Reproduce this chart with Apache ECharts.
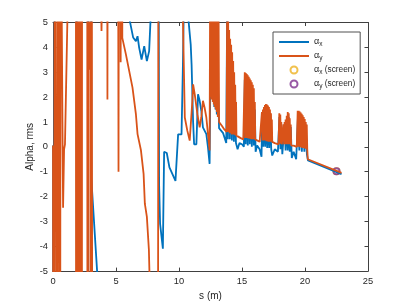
<!DOCTYPE html>
<html><head><meta charset="utf-8">
<script src="https://cdn.jsdelivr.net/npm/echarts@6/dist/echarts.min.js"></script>
<style>html,body{margin:0;padding:0;background:#fff}#c{width:407px;height:306px}</style>
</head><body><div id="c"></div>
<script>
// ---- data (s in m, alpha values; null = gap in the trace) ----
const sX = [0,0.04,0.18,1.85,1.92,2.75,2.82,2.98,3.04,3.5,3.6,3.65,
 6.0,6.36,6.58,6.71,6.84,7.03,7.24,7.45,7.63,7.82,7.85,
 8.3,8.42,8.5,8.72,8.82,9.03,9.24,9.72,9.93,10.05,10.2,10.3,10.38,10.4,
 10.68,10.93,11.0,11.12,11.2,11.38,11.51,11.64,11.77,11.9,12.03,12.17,12.3,12.43,
 12.5,12.55,12.6,12.65,12.7,12.75,12.8,12.85,12.9,12.95,13.0,13.1,13.18,
 13.3,13.5,13.75,
 13.82,13.88,13.96,14.04,14.12,14.2,14.28,14.36,14.44,14.52,14.6,14.65,
 14.8,15.0,15.15,
 15.22,15.3,15.38,15.46,15.54,15.62,15.7,15.78,15.86,15.94,16.02,16.08,
 16.2,16.4,16.55,
 16.6,16.68,16.76,16.84,16.92,17.0,17.08,17.16,17.24,17.32,17.4,
 17.6,17.85,
 17.97,18.05,18.12,18.2,
 18.38,18.46,18.55,18.63,18.71,18.79,18.87,18.95,
 19.1,19.3,
 19.45,19.55,19.65,19.75,19.85,19.95,20.05,20.15,20.24,22.9];
const alphaX = [0.05,-30,30,30,-30,-30,30,30,-1.26,-5.0,-6,null,
 5.3,4.4,4.25,4.45,3.98,3.51,4.05,3.45,3.85,6,null,
 30,-1.5,-3.1,-4.1,-0.2,-0.25,-0.83,-1.37,0.5,0.55,0.5,3.0,5.5,null,
 5.5,4.11,3.3,1.0,0.1,0.1,2.11,1.85,1.45,0.78,0.65,0.51,-0.02,-0.69,
 3.4,4.3,2.0,4.2,1.8,4.0,1.6,3.6,1.5,3.2,1.3,2.5,0.75,
 0.7,0.55,0.15,
 5.5,0.3,4.4,0.3,3.8,0.25,3.2,0.2,2.3,0.15,0.0,-0.1,
 0.15,0.1,0.0,
 2.7,0.1,2.6,0.05,2.5,0.1,2.4,0.0,2.2,0.05,1.5,-0.2,
 0.05,-0.1,-0.4,
 1.2,0.0,1.4,0.0,1.5,-0.05,1.4,-0.05,1.3,-0.1,-0.35,
 -0.1,-0.2,
 1.2,-0.1,0.9,-0.3,
 0.9,-0.15,1.1,-0.15,1.2,-0.2,0.8,-0.45,
 -0.2,-0.5,
 1.3,-0.15,1.25,-0.2,1.1,-0.2,0.9,-0.3,-0.55,-1.1];

const sY = [0,0.04,0.18,0.3,0.45,0.55,0.62,0.7,0.75,0.8,0.88,0.95,1.15,1.2,
 1.8,1.85,1.92,2.0,2.08,2.15,2.22,2.28,2.32,
 2.7,2.75,2.82,2.87,2.92,3.0,3.05,3.1,3.13,3.2,
 3.75,3.85,3.95,4.25,4.32,4.4,
 5.1,5.2,5.28,5.37,5.45,5.5,5.79,6.31,6.58,6.71,6.98,7.19,7.29,7.45,7.61,7.7,7.75,
 8.3,8.4,8.45,
 10.28,10.46,10.66,10.85,10.95,11.06,11.12,11.25,11.46,11.64,11.77,11.9,12.03,12.17,12.3,12.43,
 12.48,12.52,12.56,12.6,12.64,12.68,12.72,12.76,12.8,12.84,12.88,12.92,12.96,13.0,13.04,13.08,13.12,13.18,
 13.4,13.6,13.78,
 13.82,13.86,13.9,13.94,13.98,14.02,14.06,14.1,14.14,14.18,14.22,14.26,14.3,14.34,14.38,14.42,14.46,14.5,14.53,14.56,
 14.7,14.9,15.1,15.18,
 15.22,15.26,15.3,15.34,15.38,15.42,15.46,15.5,15.54,15.58,15.62,15.66,15.7,15.74,15.78,15.82,15.86,15.9,15.94,15.98,16.02,16.05,
 16.2,16.4,16.55,
 16.58,16.62,16.66,16.7,16.74,16.78,16.82,16.86,16.9,16.94,16.98,17.02,17.06,17.1,17.14,17.18,17.22,17.26,17.3,17.34,17.37,17.4,
 17.6,17.9,
 17.96,18.0,18.04,18.08,18.12,18.16,
 18.3,18.34,18.38,18.42,18.46,18.5,18.55,18.59,18.63,18.67,18.71,18.75,18.79,18.83,18.87,18.9,
 19.1,19.35,
 19.42,19.46,19.5,19.54,19.58,19.62,19.66,19.7,19.74,19.78,19.82,19.86,19.9,19.94,19.98,20.02,20.06,20.1,20.14,20.18,20.22,22.9];
const alphaY = [0.05,-30,30,-30,30,-30,30,4.8,1.0,-2.45,-0.1,0.1,5.3,30,
 30,-30,30,-30,30,-30,30,-30,30,
 30,-30,30,3.1,30,-30,30,-2.95,-30,null,
 8,4.66,8,30,1.9,30,
 30,-1.0,30,3.4,30,4.38,3.71,2.38,1.31,0.51,-0.14,-1.09,-2.29,-2.82,-4.14,-6,null,
 -30,30,null,
 6,1.18,0.65,0.25,0.2,1.85,2.51,2.11,1.31,0.78,1.18,1.85,1.58,1.18,0.51,-0.15,
 8,2.0,8,1.9,8,1.8,8,1.7,8,1.6,8,1.5,8,1.4,8,1.2,8,1.0,
 0.85,0.7,0.6,
 6,0.6,5.4,0.6,4.7,0.55,4.35,0.55,4.1,0.5,3.8,0.5,3.45,0.5,3.0,0.48,2.5,0.45,1.8,0.45,
 0.4,0.35,0.3,0.35,
 3.0,0.35,2.97,0.35,2.93,0.35,2.88,0.33,2.82,0.33,2.75,0.32,2.68,0.3,2.6,0.3,2.5,0.3,2.35,0.3,1.8,0.3,
 0.3,0.2,0.2,
 1.4,0.25,1.5,0.25,1.6,0.25,1.68,0.25,1.72,0.22,1.7,0.22,1.66,0.2,1.6,0.2,1.5,0.2,1.35,0.2,1.1,0.2,
 0.15,0.1,
 1.35,0.12,1.3,0.12,1.0,0.1,
 0.9,0.1,1.0,0.1,1.1,0.1,1.25,0.1,1.4,0.1,1.35,0.1,1.15,0.1,0.9,0.05,
 0.05,0.0,
 1.45,0.0,1.45,0.0,1.42,-0.02,1.38,-0.02,1.33,-0.05,1.27,-0.05,1.2,-0.05,1.12,-0.08,1.0,-0.08,0.9,-0.1,-0.5,-1.05];

const sScreen = [22.5];
const alphaXScreen = [-0.98];
const alphaYScreen = [-0.98];

const xTicks = [0, 5, 10, 15, 20, 25];
const yTicks = [-5, -4, -3, -2, -1, 0, 1, 2, 3, 4, 5];

// ---- build ----
const pairs = (s, a) => s.map((v, i) => [v, a[i] === null ? '-' : a[i]]);
const ink = '#262626';
const axisCol = '#404040';
const font = 'Liberation Sans, Arial, sans-serif';

const names = ['ax', 'ay', 'axs', 'ays'];
const legendText = {
  ax: '{g|α}{s|x}',
  ay: '{g|α}{s|y}',
  axs: '{g|α}{s|x}{t| (screen)}',
  ays: '{g|α}{s|y}{t| (screen)}'
};

const xBase = {
  type: 'value', min: xTicks[0], max: xTicks[xTicks.length - 1],
  interval: xTicks[1] - xTicks[0],
  splitLine: { show: false },
  axisLine: { show: true, onZero: false, lineStyle: { color: axisCol, width: 1 } },
  axisTick: { show: true, inside: true, length: 3.5, lineStyle: { color: axisCol } }
};
const yBase = {
  type: 'value', min: yTicks[0], max: yTicks[yTicks.length - 1],
  interval: yTicks[1] - yTicks[0],
  splitLine: { show: false },
  axisLine: { show: true, onZero: false, lineStyle: { color: axisCol, width: 1 } },
  axisTick: { show: true, inside: true, length: 3.5, lineStyle: { color: axisCol } }
};

const chart = echarts.init(document.getElementById('c'), null, { renderer: 'canvas' });
chart.setOption({
  animation: false,
  backgroundColor: '#fff',
  grid: { left: 53, right: 39, top: 22.5, bottom: 33.5, containLabel: false },
  xAxis: [
    Object.assign({}, xBase, {
      position: 'bottom',
      name: 's (m)', nameLocation: 'middle', nameGap: 18,
      nameTextStyle: { fontSize: 10, color: ink, fontFamily: font },
      axisLabel: { show: true, margin: 6, fontSize: 9.3, color: ink, fontFamily: font }
    }),
    Object.assign({}, xBase, { position: 'top', axisLabel: { show: false } })
  ],
  yAxis: [
    Object.assign({}, yBase, {
      position: 'left',
      name: 'Alpha, rms', nameLocation: 'middle', nameGap: 18, nameRotate: 90,
      nameMoveOverlap: false,
      nameTextStyle: { fontSize: 10, color: ink, fontFamily: font },
      axisLabel: { show: true, margin: 5, fontSize: 9.3, color: ink, fontFamily: font }
    }),
    Object.assign({}, yBase, { position: 'right', axisLabel: { show: false } })
  ],
  legend: {
    orient: 'vertical', left: 273, top: 32,
    padding: [4, 5, 4, 5],
    itemWidth: 30, itemHeight: 7, itemGap: 2,
    backgroundColor: '#fff', borderColor: '#505050', borderWidth: 1, borderRadius: 0,
    selectedMode: false,
    data: [
      { name: 'ax', itemStyle: { opacity: 0 } },
      { name: 'ay', itemStyle: { opacity: 0 } },
      { name: 'axs' },
      { name: 'ays' }
    ],
    formatter: n => legendText[n],
    textStyle: {
      color: ink, fontSize: 8.3, fontFamily: font,
      rich: {
        g: { fontSize: 9, lineHeight: 12, fontFamily: font, color: ink },
        s: { fontSize: 6.5, lineHeight: 7, fontFamily: font, color: ink, padding: [5, 0, 0, 0] },
        t: { fontSize: 8.3, lineHeight: 12, fontFamily: font, color: ink }
      }
    }
  },
  series: [
    { name: 'ax', type: 'line', xAxisIndex: 0, yAxisIndex: 0, data: pairs(sX, alphaX),
      symbol: 'none', showSymbol: false, clip: true, connectNulls: false,
      lineStyle: { color: '#0072BD', width: 1.8 }, itemStyle: { color: '#0072BD' } },
    { name: 'ay', type: 'line', xAxisIndex: 0, yAxisIndex: 0, data: pairs(sY, alphaY),
      symbol: 'none', showSymbol: false, clip: true, connectNulls: false,
      lineStyle: { color: '#D95319', width: 1.8 }, itemStyle: { color: '#D95319' } },
    { name: 'axs', type: 'scatter', data: pairs(sScreen, alphaXScreen),
      symbol: 'emptyCircle', symbolSize: 6,
      itemStyle: { color: '#EDB120', borderColor: '#EDB120', borderWidth: 2 } },
    { name: 'ays', type: 'scatter', data: pairs(sScreen, alphaYScreen),
      symbol: 'emptyCircle', symbolSize: 6,
      itemStyle: { color: '#7E2F8E', borderColor: '#7E2F8E', borderWidth: 2 } }
  ]
});
</script></body></html>
